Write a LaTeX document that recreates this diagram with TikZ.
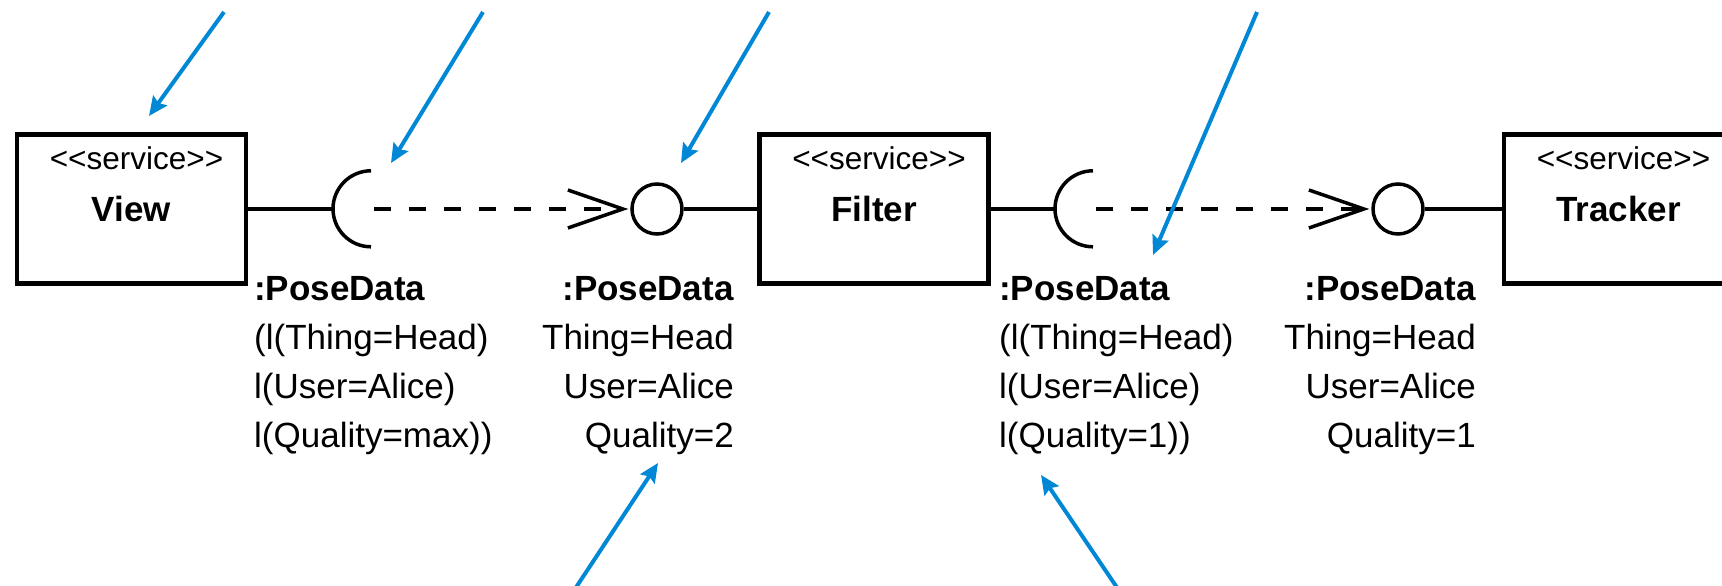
\documentclass[tikz,border=0pt]{standalone}
\usepackage{fontspec}
\setmainfont{Liberation Sans}
\usetikzlibrary{positioning, arrows.meta}

\definecolor{pointblue}{RGB}{0,136,214}
\newcommand{\umlstereo}[1]{<\kern0pt<#1>\kern0pt>}

\begin{document}
\begin{tikzpicture}[x=1pt, y=-1pt,
  service/.style={rectangle, draw, line width=4.5pt, minimum width=229pt, minimum height=149pt, inner sep=0pt, font=\fontsize{35}{42}\selectfont\bfseries},
  stereotype/.style={font=\fontsize{31.5}{36}\selectfont, inner sep=0pt},
  ball/.style={circle, draw, line width=3.5pt, minimum size=50pt, inner sep=0pt},
  socket/.style={circle, minimum size=76pt, inner sep=0pt},
  wire/.style={line width=3.5pt},
  dependency/.style={line width=3.5pt, dash pattern=on 17pt off 18pt, shorten >=2pt, -{Straight Barb[length=55pt, width=38pt, line width=3.5pt]}},
  datatype/.style={font=\fontsize{35}{49}\selectfont, inner sep=0pt},
  pointer/.style={draw=pointblue, line width=4pt, -{Stealth[length=19pt, width=17pt, inset=3pt]}}
]
\useasboundingbox (0,0) rectangle (1722,586);
\clip (0,0) rectangle (1722,586);

% Services
\node[service] (view) at (131.5,209) {View};
\node[service] (filter) at (874,209) {Filter};
\node[service] (tracker) at (1618.5,209) {Tracker};
\foreach \s in {view, filter, tracker} {
  \node[stereotype] (\s tag) at ([xshift=5pt, yshift=51pt]\s.center) {\umlstereo{service}};
}

% Required (socket) and provided (ball) interfaces
\node[socket] (sockview) at (371,209) {};
\node[ball] (ballfilter) at (657,209) {};
\node[socket] (sockfilter) at (1093,209) {};
\node[ball] (balltracker) at (1398,209) {};

\draw[wire] (sockview.north) arc[start angle=90, end angle=270, radius=38pt];
\draw[wire] (sockfilter.north) arc[start angle=90, end angle=270, radius=38pt];

\draw[wire] (view.east) -- (sockview.west);
\draw[wire] (ballfilter.east) -- (filter.west);
\draw[wire] (filter.east) -- (sockfilter.west);
\draw[wire] (balltracker.east) -- (tracker.west);

\draw[dependency] ([xshift=3pt]sockview.center) -- (ballfilter.west);
\draw[dependency] ([xshift=3pt]sockfilter.center) -- (balltracker.west);

% Data types at the interfaces (anchored on the last line)
\node[datatype, align=left, anchor=base west] (reqview) at (254,447) {\textbf{:PoseData}\\(l(Thing=Head)\\l(User=Alice)\\l(Quality=max))};
\node[datatype, align=right, anchor=base east] (provfilter) at (734,447) {\textbf{:PoseData}\\Thing=Head\\User=Alice\\Quality=2};
\node[datatype, align=left, anchor=base west] (reqfilter) at (999,447) {\textbf{:PoseData}\\(l(Thing=Head)\\l(User=Alice)\\l(Quality=1))};
\node[datatype, align=right, anchor=base east] (provtracker) at (1476,447) {\textbf{:PoseData}\\Thing=Head\\User=Alice\\Quality=1};

% Pointers
\coordinate (tailA) at (224,12);   \coordinate (tipA) at (149,116);
\coordinate (tailB) at (483,12);   \coordinate (tipB) at (391,163);
\coordinate (tailC) at (769,12);   \coordinate (tipC) at (681,163);
\coordinate (tailD) at (1257,12);  \coordinate (tipD) at (1153,255);
\coordinate (tailE) at (573,592);  \coordinate (tipE) at (658,463);
\coordinate (tailF) at (1120,592); \coordinate (tipF) at (1041,475);
\foreach \p in {A,B,C,D,E,F} {
  \draw[pointer] (tail\p) -- (tip\p);
}

\end{tikzpicture}
\end{document}
